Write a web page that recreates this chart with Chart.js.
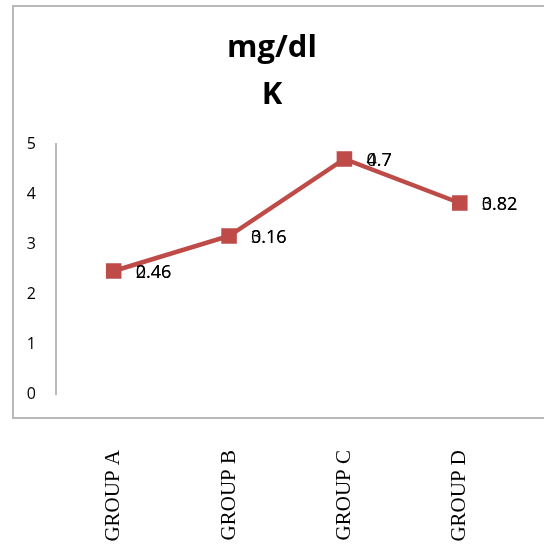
<!DOCTYPE html>
<html>
<head>
<meta charset="utf-8">
<script src="https://cdn.jsdelivr.net/npm/chart.js@4"></script>
<style>
    body { margin: 0; background: #fff; }
    #wrap { position: relative; width: 544px; height: 552px; overflow: hidden; }
    #frame {
        position: absolute; left: 12px; top: 5px; width: 560px; height: 414px;
        border: 2px solid #b9b9b9; box-sizing: border-box;
    }
    canvas { position: absolute; left: 0; top: 0; }
</style>
</head>
<body>
<div id="wrap">
    <div id="frame"></div>
    <canvas id="chart" width="544" height="552"></canvas>
</div>
<script>
const groups = ["GROUP A", "GROUP B", "GROUP C", "GROUP D"];
const means = [2.46, 3.16, 4.7, 3.82];
const sds = [0.46, 0.16, 0.7, 0.82];
const titleLines = ["mg/dl", "K"];

const lineColor = "#BE4B48";

// value labels: mean and sd printed on top of each other, like the original
const valueLabels = {
    id: "valueLabels",
    afterDatasetsDraw(chart) {
        const ctx = chart.ctx;
        const meta = chart.getDatasetMeta(0);
        ctx.save();
        ctx.font = "18px 'Open Sans', 'Liberation Sans', sans-serif";
        ctx.fillStyle = "#000";
        ctx.textAlign = "left";
        ctx.textBaseline = "middle";
        meta.data.forEach((pt, i) => {
            ctx.fillText(String(means[i]), pt.x + 22, pt.y + 2);
            ctx.fillText(String(sds[i]), pt.x + 22, pt.y + 2);
        });
        ctx.restore();
    }
};

new Chart(document.getElementById("chart"), {
    type: "line",
    data: {
        labels: groups,
        datasets: [{
            data: means,
            borderColor: lineColor,
            backgroundColor: lineColor,
            borderWidth: 4.5,
            pointStyle: "rect",
            pointRadius: 11,
            pointBorderWidth: 0,
            tension: 0,
        }],
    },
    options: {
        responsive: false,
        animation: false,
        layout: { padding: 0 },
        plugins: {
            legend: { display: false },
            tooltip: { enabled: false },
            title: {
                display: true,
                text: titleLines,
                color: "#000",
                font: { family: "'Open Sans', 'Liberation Sans', sans-serif", size: 31, weight: "bold", lineHeight: 1.5 },
                padding: { top: 25, bottom: 26 },
            },
        },
        scales: {
            x: {
                offset: true,
                grid: { display: false, drawTicks: false, offset: true },
                border: { display: false },
                ticks: {
                    color: "#000",
                    font: { family: "'Liberation Serif', 'DejaVu Serif', serif", size: 21 },
                    minRotation: 90,
                    maxRotation: 90,
                    padding: 56,
                },
                afterFit(scale) { scale.height = 158; },
            },
            y: {
                min: 0,
                max: 5,
                grid: { display: false, drawTicks: false },
                border: { display: true, color: "#b9b9b9", width: 2 },
                ticks: {
                    stepSize: 1,
                    color: "#000",
                    font: { family: "'Open Sans', 'Liberation Sans', sans-serif", size: 16 },
                    padding: 20,
                },
                afterFit(scale) { scale.width = 56; },
            },
            // empty axis that only reserves the right margin
            yRight: {
                position: "right",
                min: 0,
                max: 5,
                grid: { display: false, drawTicks: false },
                border: { display: false },
                ticks: { display: false },
                afterFit(scale) { scale.width = 24; },
            },
        },
    },
    plugins: [valueLabels],
});
</script>
</body>
</html>
